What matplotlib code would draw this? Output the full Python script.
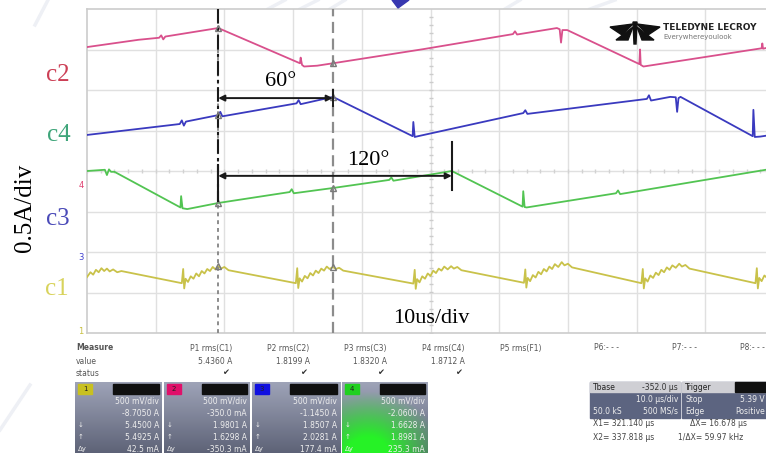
import numpy as np
import matplotlib.pyplot as plt
from matplotlib.patches import Polygon, Rectangle

W, H = 766, 453

# traces: screen time (us, 10 us/div) and vertical position (div)
c2_t = [0.0, 7.5, 10.5, 10.8, 11.1, 11.4, 19.1, 31.0, 31.1, 31.3, 31.6, 33.5, 35.8,
        49.0, 62.0, 62.3, 62.6, 68.4, 68.8, 69.0, 69.2, 69.9, 80.4, 80.5, 80.6, 81.0,
        98.2, 98.3, 98.4, 100.0]
c2_v = [3.06, 3.24, 3.29, 3.35, 3.25, 3.32, 3.53, 2.66, 2.80, 2.62, 2.58, 2.60, 2.66,
        3.01, 3.38, 3.45, 3.37, 3.53, 3.50, 3.17, 3.48, 3.48, 2.64, 3.00, 2.62, 2.58,
        3.03, 3.15, 3.02, 3.08]

c4_t = [0.0, 13.5, 13.8, 14.1, 14.4, 19.1, 19.4, 19.7, 30.5, 30.8, 31.1, 35.8,
        47.4, 47.5, 47.7, 48.2, 63.5, 63.8, 64.1, 81.5, 81.8, 82.1, 84.9, 85.7,
        85.9, 86.1, 86.4, 96.9, 97.0, 97.2, 98.0, 100.0]
c4_v = [0.89, 1.16, 1.25, 1.12, 1.22, 1.38, 1.46, 1.35, 1.67, 1.75, 1.65, 1.83,
        0.86, 1.21, 0.84, 0.86, 1.43, 1.50, 1.41, 1.78, 1.87, 1.74, 1.83, 1.82,
        1.46, 1.80, 1.83, 0.86, 1.51, 0.84, 0.85, 0.90]

c3_t = [0.0, 2.6, 2.9, 3.2, 3.5, 4.0, 13.6, 13.7, 13.9, 14.6, 19.1, 29.5, 29.8,
        30.1, 35.8, 44.0, 44.3, 44.6, 53.1, 63.4, 63.5, 63.7, 64.0, 77.0, 77.3,
        77.6, 98.8, 100.0]
c3_v = [0.00, 0.03, -0.10, 0.04, -0.02, -0.02, -0.90, -0.62, -0.92, -0.94, -0.79,
        -0.52, -0.45, -0.55, -0.42, -0.22, -0.16, -0.24, 0.00, -0.88, -0.50, -0.89,
        -0.90, -0.55, -0.48, -0.57, 0.03, 0.05]

c1_t = [0.0, 0.5, 0.9, 1.3, 1.7, 2.1, 2.5, 2.9, 3.3, 3.8, 4.4, 5.0,
        13.8, 14.0, 14.15, 14.35, 14.7, 15.1, 15.5, 15.9, 16.3, 16.7, 17.1, 17.5,
        17.9, 18.3, 18.7, 19.1, 19.5, 20.0, 20.6,
        30.4, 30.6, 30.75, 30.95, 31.3, 31.7, 32.1, 32.5, 32.9, 33.3, 33.7, 34.1,
        34.5, 34.9, 35.3, 35.8, 36.2, 36.7, 37.3,
        47.5, 47.7, 47.85, 48.05, 48.4, 48.8, 49.2, 49.6, 50.0, 50.4, 50.8, 51.2,
        51.6, 52.0, 52.5, 53.0, 53.4, 53.9, 54.5,
        63.6, 63.8, 63.95, 64.15, 64.5, 64.9, 65.3, 65.7, 66.1, 66.5, 66.9, 67.3,
        67.7, 68.1, 68.6, 69.1, 69.5, 70.0, 70.6,
        80.7, 80.9, 81.05, 81.25, 81.6, 82.0, 82.4, 82.8, 83.2, 83.6, 84.0, 84.4,
        84.8, 85.2, 85.7, 86.2, 86.6, 87.1, 87.7,
        97.3, 97.5, 97.65, 97.85, 98.2, 98.6, 99.0, 99.4, 100.0]
c1_v = [-2.62, -2.50, -2.56, -2.44, -2.50, -2.40, -2.47, -2.41, -2.48, -2.43, -2.50, -2.47,
        -2.77, -2.42, -2.90, -2.66, -2.74, -2.60, -2.66, -2.53, -2.60, -2.47, -2.53, -2.42,
        -2.47, -2.37, -2.43, -2.35, -2.41, -2.37, -2.45,
        -2.77, -2.40, -2.89, -2.65, -2.73, -2.59, -2.65, -2.52, -2.58, -2.46, -2.52, -2.41,
        -2.46, -2.36, -2.42, -2.37, -2.42, -2.39, -2.46,
        -2.78, -2.44, -2.91, -2.67, -2.75, -2.60, -2.66, -2.53, -2.59, -2.46, -2.52, -2.41,
        -2.46, -2.36, -2.43, -2.35, -2.41, -2.37, -2.45,
        -2.76, -2.43, -2.88, -2.64, -2.72, -2.57, -2.63, -2.49, -2.55, -2.42, -2.48, -2.36,
        -2.42, -2.30, -2.37, -2.25, -2.33, -2.29, -2.38,
        -2.77, -2.42, -2.90, -2.65, -2.73, -2.58, -2.64, -2.51, -2.57, -2.44, -2.50, -2.38,
        -2.44, -2.33, -2.39, -2.29, -2.36, -2.32, -2.41,
        -2.77, -2.40, -2.90, -2.64, -2.72, -2.58, -2.64, -2.52, -2.56]

cursor_x1 = 19.1
cursor_dx = 16.678
mark_120 = 53.1

trace_colors = {'c2': '#d9508c', 'c4': '#3a3abf', 'c3': '#52c452', 'c1': '#c9c24a'}
label_colors = {'c2': '#cc3f55', 'c4': '#3fa57a', 'c3': '#4a4ab8', 'c1': '#d8d35c'}

# measurement table
meas_names = ['P1 rms(C1)', 'P2 rms(C2)', 'P3 rms(C3)', 'P4 rms(C4)',
              'P5 rms(F1)', 'P6:- - -', 'P7:- - -', 'P8:- - -']
meas_values = ['5.4360 A', '1.8199 A', '1.8320 A', '1.8712 A', '', '', '', '']
meas_ok = [True, True, True, True, False, False, False, False]

# channel descriptor boxes
chan_tags = ['1', '2', '3', '4']
chan_tag_colors = ['#c8c020', '#e0106a', '#1010e0', '#20d020']
chan_scale = ['500 mV/div', '500 mV/div', '500 mV/div', '500 mV/div']
chan_offset = ['-8.7050 A', '-350.0 mA', '-1.1450 A', '-2.0600 A']
chan_y1 = ['5.4500 A', '1.9801 A', '1.8507 A', '1.6628 A']
chan_y2 = ['5.4925 A', '1.6298 A', '2.0281 A', '1.8981 A']
chan_dy = ['42.5 mA', '-350.3 mA', '177.4 mA', '235.3 mA']

tbase = ['Tbase', '-352.0 µs', '', '10.0 µs/div', '50.0 kS', '500 MS/s']
trig = ['Trigger', 'Stop', '5.39 V', 'Edge', 'Positive']
cursor_read = ['X1= 321.140 µs', 'ΔX= 16.678 µs', 'X2= 337.818 µs', '1/ΔX= 59.97 kHz']


def fx(x):
    return x / W


def fy(y):
    return 1 - y / H


fig = plt.figure(figsize=(7.66, 4.53), dpi=100)
fig.patch.set_facecolor('white')

# faint watermark strokes behind everything
wm = '#eef0f5'
for (xa, ya, xb, yb) in [(268, 9, 285, 0), (300, 9, 318, 0), (330, 9, 345, 0),
                         (505, 9, 520, 0), (590, 9, 615, 0), (35, 25, 48, 0),
                         (0, 430, 30, 385)]:
    fig.add_artist(plt.Line2D([fx(xa), fx(xb)], [fy(ya), fy(yb)], color=wm, lw=2.5,
                              transform=fig.transFigure, zorder=0))
fig.add_artist(Polygon([[fx(392), fy(0)], [fx(409), fy(0)], [fx(398), fy(8)]],
                       closed=True, color='#3838b0', transform=fig.transFigure))

ax = fig.add_axes([fx(87), fy(333), (774 - 87) / W, (333 - 9) / H])
ax.set_xlim(0, 100)
ax.set_ylim(-4, 4)
ax.set_xticks([])
ax.set_yticks([])
for s in ax.spines.values():
    s.set_color('#cccccc')
    s.set_linewidth(1.2)

for t in range(10, 100, 10):
    ax.axvline(t, color='#e0e0e0', lw=1, zorder=1)
for v in range(-3, 4):
    ax.axhline(v, color='#e0e0e0', lw=1, zorder=1)
# center graticule ticks
ax.plot(np.arange(0, 100, 2), np.zeros(50), ls='none', marker='|', ms=3,
        color='#d2d2d2', zorder=1)
ax.plot(np.full(40, 50.0), np.arange(-4, 4, 0.2), ls='none', marker='_', ms=3,
        color='#cccccc', zorder=1)

ax.plot(c2_t, c2_v, color=trace_colors['c2'], lw=1.3, zorder=3)
ax.plot(c4_t, c4_v, color=trace_colors['c4'], lw=1.3, zorder=3)
ax.plot(c3_t, c3_v, color=trace_colors['c3'], lw=1.3, zorder=3)
ax.plot(c1_t, c1_v, color=trace_colors['c1'], lw=1.3, zorder=3)

x1 = cursor_x1
x2 = cursor_x1 + cursor_dx

# scope cursors
ax.axvline(x1, color='#8c8c8c', lw=1.4, dashes=(2, 2), zorder=4)
ax.axvline(x2, color='#8c8c8c', lw=1.6, dashes=(5, 2.5), zorder=4)
ax.plot([x1, x1], [4, -0.75], color='#1a1a1a', lw=1.5, dashes=(7, 2, 1.5, 2), zorder=5)

for tt, vv in [(c2_t, c2_v), (c4_t, c4_v), (c3_t, c3_v), (c1_t, c1_v)]:
    for xc in (x1, x2):
        ax.plot(xc, np.interp(xc, tt, vv), marker='^', ms=5, mfc='none',
                mec='#7a7a7a', mew=1, zorder=6)

# phase-shift annotations
ax.annotate('', xy=(x2, 1.80), xytext=(x1, 1.80),
            arrowprops=dict(arrowstyle='<|-|>', color='#1a1a1a', lw=1.4,
                            mutation_scale=9, shrinkA=0, shrinkB=0), zorder=7)
ax.plot([x2, x2], [2.0, 1.6], color='#1a1a1a', lw=1.4, zorder=7)
ax.annotate('', xy=(mark_120, -0.12), xytext=(x1, -0.12),
            arrowprops=dict(arrowstyle='<|-|>', color='#1a1a1a', lw=1.4,
                            mutation_scale=9, shrinkA=0, shrinkB=0), zorder=7)
ax.plot([x1, x1], [0.15, -0.75], color='#1a1a1a', lw=1.5, zorder=7)
ax.plot([mark_120, mark_120], [0.72, -0.47], color='#1a1a1a', lw=1.5, zorder=7)

serif = 'Liberation Serif'
ax.text(28.2, 2.22, '60°', fontsize=16, family=serif, ha='center', va='center', zorder=8)
ax.text(41.0, 0.25, '120°', fontsize=16, family=serif, ha='center', va='center', zorder=8)
ax.text(50.1, -3.63, '10us/div', fontsize=16, family=serif, ha='center', va='center', zorder=8)

# trace names and scale on the left
fig.text(fx(58), fy(75), 'c2', fontsize=18, family=serif, color=label_colors['c2'],
         ha='center', va='center')
fig.text(fx(59), fy(135), 'c4', fontsize=18, family=serif, color=label_colors['c4'],
         ha='center', va='center')
fig.text(fx(58), fy(219), 'c3', fontsize=18, family=serif, color=label_colors['c3'],
         ha='center', va='center')
fig.text(fx(57), fy(289), 'c1', fontsize=18, family=serif, color=label_colors['c1'],
         ha='center', va='center')
fig.text(fx(25), fy(208), '0.5A/div', fontsize=18, family=serif, rotation=90,
         ha='center', va='center')
fig.text(fx(81), fy(186), '4', fontsize=6, color='#e04070', ha='center', va='center')
fig.text(fx(81), fy(258), '3', fontsize=6, color='#4040d0', ha='center', va='center')
fig.text(fx(81), fy(332), '1', fontsize=6, color='#c8c040', ha='center', va='center')

# Teledyne LeCroy logo
logo = [[(633, 24), (610, 27), (622, 35)], [(633, 27), (616, 40), (628, 40)],
        [(637, 24), (660, 27), (648, 35)], [(637, 27), (654, 40), (642, 40)],
        [(633, 22), (637, 22), (636, 44), (634, 44)]]
for pts in logo:
    fig.add_artist(Polygon([[fx(a), fy(b)] for a, b in pts], closed=True,
                           color='#111111', transform=fig.transFigure))
fig.text(fx(663), fy(28), 'TELEDYNE LECROY', fontsize=6.5, weight='bold',
         color='#222222', va='center')
fig.text(fx(663), fy(37), 'Everywhereyoulook', fontsize=5, color='#777777', va='center')

# measurement rows
small = dict(fontsize=5.5, color='#555555', va='center')
fig.text(fx(76), fy(348), 'Measure', weight='bold', **small)
fig.text(fx(76), fy(361), 'value', **small)
fig.text(fx(76), fy(373), 'status', **small)
for i, name in enumerate(meas_names):
    xr = min(232 + i * 77.5, 765)
    fig.text(fx(xr), fy(348), name, ha='right', **small)
    if meas_values[i]:
        fig.text(fx(xr), fy(361), meas_values[i], ha='right', **small)
    if meas_ok[i]:
        fig.text(fx(xr - 6), fy(373), '✔', ha='center', fontsize=6,
                 color='#333333', va='center')

box_x = [(75, 162), (164, 250), (252, 340), (342, 428)]
grad = np.linspace(0, 1, 64)[:, None]
for i, (xa, xb) in enumerate(box_x):
    bax = fig.add_axes([fx(xa), fy(455), (xb - xa) / W, (455 - 382) / H])
    bax.set_xlim(0, xb - xa)
    bax.set_ylim(455, 382)
    bax.axis('off')
    top = np.array([0.62, 0.64, 0.72])
    bot = np.array([0.36, 0.38, 0.46])
    img = top + (bot - top) * grad[:, :, None] * np.ones((1, 64, 1))
    if i == 3:
        gx = np.linspace(0, 1, 64)[None, :]
        gy = np.linspace(0, 1, 64)[:, None]
        glow = np.clip(1.4 - np.hypot(gx - 0.3, gy - 1.0) * 1.6, 0, 1)[:, :, None]
        img = img * (1 - glow) + np.array([0.15, 0.95, 0.15]) * glow
    bax.imshow(img, extent=[0, xb - xa, 455, 382], aspect='auto', zorder=0)
    bax.add_patch(Rectangle((3, 384), 14, 10, color=chan_tag_colors[i], zorder=1))
    bax.text(10, 389, chan_tags[i], fontsize=5, color='#222222', ha='center',
             va='center', zorder=2)
    bax.add_patch(Rectangle((38, 384), xb - xa - 41, 10, color='#101010', zorder=1))
    rows = [chan_scale[i], chan_offset[i], chan_y1[i], chan_y2[i], chan_dy[i]]
    for j, txt in enumerate(rows):
        bax.text(xb - xa - 3, 401 + j * 12, txt, fontsize=5.5, color='#eeeeee',
                 ha='right', va='center', zorder=2)
    for j, sym in enumerate(['↓', '↑', 'Δy']):
        bax.text(3, 425 + j * 12, sym, fontsize=5, color='#eeeeee', va='center', zorder=2)

# timebase / trigger readout
for xa, xb, hdr in [(590, 680, tbase[0]), (682, 770, trig[0])]:
    fig.add_artist(Rectangle((fx(xa), fy(418)), (xb - xa) / W, 36 / H,
                             color='#5c6480', transform=fig.transFigure))
    fig.add_artist(Rectangle((fx(xa), fy(392)), (xb - xa) / W, 10 / H,
                             color='#cfcfd4', transform=fig.transFigure))
    fig.text(fx(xa + 3), fy(387), hdr, fontsize=5.5, color='#222222', va='center')
fig.add_artist(Rectangle((fx(735), fy(392)), 40 / W, 10 / H, color='#101010',
                         transform=fig.transFigure))
fig.text(fx(678), fy(387), tbase[1], fontsize=5.5, color='#333333', ha='right', va='center')
fig.text(fx(678), fy(400), tbase[3], fontsize=5.5, color='#eeeeee', ha='right', va='center')
fig.text(fx(593), fy(411), tbase[4], fontsize=5.5, color='#eeeeee', va='center')
fig.text(fx(678), fy(411), tbase[5], fontsize=5.5, color='#eeeeee', ha='right', va='center')
fig.text(fx(685), fy(400), trig[1], fontsize=5.5, color='#eeeeee', va='center')
fig.text(fx(765), fy(400), trig[2], fontsize=5.5, color='#eeeeee', ha='right', va='center')
fig.text(fx(685), fy(411), trig[3], fontsize=5.5, color='#eeeeee', va='center')
fig.text(fx(765), fy(411), trig[4], fontsize=5.5, color='#eeeeee', ha='right', va='center')

fig.text(fx(593), fy(423), cursor_read[0], fontsize=5.5, color='#444444', va='center')
fig.text(fx(690), fy(423), cursor_read[1], fontsize=5.5, color='#444444', va='center')
fig.text(fx(593), fy(437), cursor_read[2], fontsize=5.5, color='#444444', va='center')
fig.text(fx(678), fy(437), cursor_read[3], fontsize=5.5, color='#444444', va='center')

fig.savefig('out.png', dpi=100)
